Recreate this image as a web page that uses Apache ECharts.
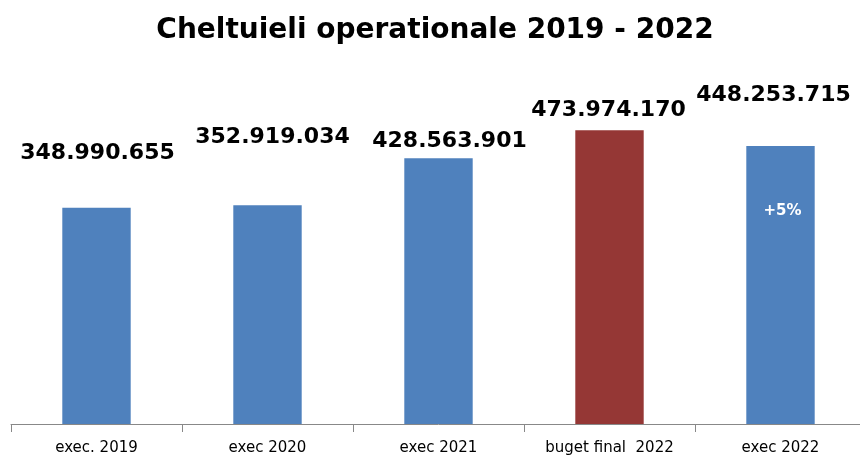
<!DOCTYPE html>
<html>
<head>
<meta charset="utf-8">
<script src="https://cdn.jsdelivr.net/npm/echarts@6/dist/echarts.min.js"></script>
<style>
  html, body { margin: 0; padding: 0; background: #fff; overflow: hidden; }
  #chart { width: 870px; height: 457px; }
</style>
</head>
<body>
<div id="chart"></div>
<script>
// date
const categories = ['exec. 2019', 'exec 2020', 'exec 2021', 'buget final  2022', 'exec 2022']
const values = [348990655, 352919034, 428563901, 473974170, 448253715]
const highlight = [false, false, false, true, false]
const note = { category: 'exec 2022', value: 448253715, text: '+5%' }

// pozitia etichetelor deasupra barelor
const labelOffsets = [[1, -38], [5, -52], [11, -1], [-1, -4], [-7, -35]]

const fmt = (v) => String(v).replace(/\B(?=(\d{3})+(?!\d))/g, '.')

const chart = echarts.init(document.getElementById('chart'))

const option = {
  animation: false,
  title: {
    text: 'Cheltuieli operationale 2019 - 2022',
    left: 'center',
    top: 12,
    textStyle: {
      fontFamily: 'DejaVu Sans',
      fontWeight: 'bold',
      fontSize: 28,
      color: '#000'
    }
  },
  grid: {
    left: 11,
    right: 4,
    top: 114,
    bottom: 33
  },
  xAxis: {
    type: 'category',
    data: categories,
    axisLine: { lineStyle: { color: '#888', width: 1 } },
    axisTick: { show: true, length: 8, lineStyle: { color: '#888' } },
    axisLabel: {
      interval: 0,
      color: '#000',
      fontFamily: 'DejaVu Sans',
      fontSize: 15,
      margin: 17
    }
  },
  yAxis: {
    type: 'value',
    min: 0,
    max: 500000000,
    show: false,
    splitLine: { show: false }
  },
  series: [
    {
      type: 'bar',
      barWidth: '40%',
      data: values.map((v, i) => ({
        value: v,
        itemStyle: { color: highlight[i] ? '#953735' : '#4f81bd' },
        label: { offset: labelOffsets[i] }
      })),
      label: {
        show: true,
        position: 'top',
        formatter: (p) => fmt(p.value),
        fontFamily: 'DejaVu Sans',
        fontWeight: 'bold',
        fontSize: 22,
        color: '#000'
      },
      markPoint: {
        symbol: 'circle',
        symbolSize: 1,
        itemStyle: { color: 'transparent' },
        label: {
          show: true,
          formatter: note.text,
          color: '#fff',
          fontFamily: 'DejaVu Sans',
          fontWeight: 'bold',
          fontSize: 15,
          offset: [2, 65]
        },
        data: [{ coord: [note.category, note.value] }]
      }
    }
  ]
}

chart.setOption(option)
</script>
</body>
</html>
